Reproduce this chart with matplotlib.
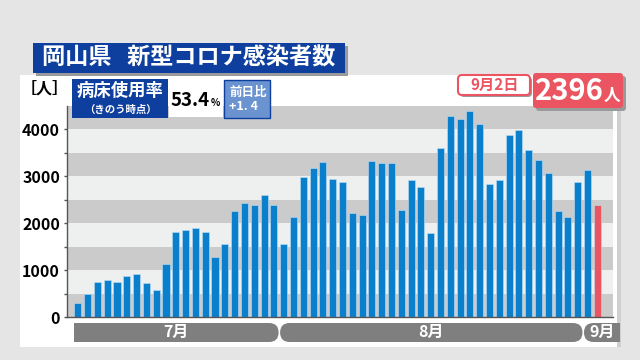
import matplotlib
matplotlib.use("Agg")
import matplotlib.pyplot as plt
from matplotlib.patches import FancyBboxPatch
from matplotlib.transforms import IdentityTransform

plt.rcParams['font.family'] = ['Noto Sans CJK JP', 'DejaVu Sans']

# daily new cases, 7/11 .. 9/2
cases = [299, 498, 754, 783, 754, 868, 918, 733, 584, 1139,
         1822, 1865, 1893, 1822, 1281, 1559, 2270, 2434, 2399, 2612, 2391,
         1566, 2142, 2996, 3181, 3302, 2947, 2875, 2221, 2171, 3317,
         3288, 3295, 2285, 2932, 2783, 1801, 3601, 4285, 4228, 4399,
         4121, 2833, 2925, 3879, 3979, 3552, 3345, 3068, 2256, 2142,
         2875, 3125, 2396]
months = ['7月', '8月', '9月']
month_days = [21, 31, 2]
yticks = [0, 1000, 2000, 3000, 4000]

title = '岡山県   新型コロナ感染者数'
bed_label = '病床使用率'
bed_note = '（きのう時点）'
bed_rate = '53.4'
bed_diff = '+1. 4'
latest_date = '9月2日'
latest_count = '2396'

W, H = 640, 360
BLUE = '#0a80cc'
RED = '#eb5561'
NAVY = '#0e3f9e'

fig = plt.figure(figsize=(W / 100, H / 100), dpi=100)
fig.patch.set_facecolor('#e6e5e5')
PIX = IdentityTransform()


def box(x0, y0, x1, y1, face, edge='none', lw=0, r=0, z=1):
    # pixel coords, origin top-left
    style = 'round,pad=0,rounding_size=%g' % r if r else 'square,pad=0'
    p = FancyBboxPatch((x0, H - y1), x1 - x0, y1 - y0, boxstyle=style,
                       transform=PIX, facecolor=face, edgecolor=edge,
                       linewidth=lw, zorder=z)
    fig.add_artist(p)


def label(x, y, s, size, color='white', ha='center', va='center', z=5):
    fig.text(x, H - y, s, transform=PIX, fontsize=size, color=color,
             fontweight='bold', ha=ha, va=va, zorder=z)


# white panel
box(20, 75, 617, 347, 'white', z=0)
box(617, 78, 621, 347, '#cfcfcf', z=0)

# chart
ax = fig.add_axes([67 / W, (H - 317) / H, (613 - 67) / W, (317 - 106) / H])
ax.set_xlim(-1.1, 54.6)
ax.set_ylim(0, 4500)
for k in range(9):
    ax.axhspan(k * 500, (k + 1) * 500, color='#cbcbcb' if k % 2 == 0 else '#eeefef',
               lw=0, zorder=0)
x = list(range(len(cases)))
colors = [BLUE] * (len(cases) - 1) + [RED]
ax.bar(x, cases, width=0.72, color=colors, edgecolor='#bfe0f5', linewidth=0.4, zorder=2)
ax.set_yticks(yticks)
ax.set_yticklabels([str(v) for v in yticks], fontsize=11.5, fontweight='bold')
ax.set_yticks(range(500, 4500, 1000), minor=True)
ax.tick_params(axis='y', which='both', length=2, width=1, color='#555555', pad=3)
ax.set_xticks([])
for s in ('top', 'right'):
    ax.spines[s].set_visible(False)
for s in ('left', 'bottom'):
    ax.spines[s].set_color('#555555')
    ax.spines[s].set_linewidth(1)

# month bands under the axis
fig.canvas.draw()
start = 0
starts = []
for n in month_days:
    starts.append(start)
    start += n
for i, (m, s0) in enumerate(zip(months, starts)):
    xl = ax.transData.transform((s0 - 0.36, 0))[0]
    if i + 1 < len(starts):
        xr = ax.transData.transform((starts[i + 1] - 0.36, 0))[0] - 1.5
    else:
        xr = 620
    box(xl, 323, xr, 342, '#7f7f7f', r=9.5, z=3)
    if i == 0:
        box(xl, 323, xl + 12, 342, '#7f7f7f', z=3)
    if i == len(months) - 1:
        box(xr - 12, 323, xr, 342, '#7f7f7f', z=3)
    label((xl + xr) / 2, 332, m, 11.5)

label(45, 89, '［人］', 11.5, color='black')

# title
box(36, 46, 348, 76, '#9a9a9a', z=2)
box(33, 43, 345, 73, NAVY, z=3)
label(42, 58, title, 16.7, ha='left')

# bed occupancy box
box(72, 79, 168, 118, NAVY, z=3)
label(120, 91, bed_label, 12.5)
label(120, 110, bed_note, 7.5)
box(169, 81, 223, 117, 'white', z=3)
label(210, 100, bed_rate, 13.5, color='black', ha='right')
label(211, 103, '%', 7, color='black', ha='left')
box(224, 80, 270, 118, '#6a93d0', edge=NAVY, lw=1, z=3)
label(229, 92, '前日比', 9, ha='left')
label(229, 107, bed_diff, 9, ha='left')

# latest value
box(460, 77, 532, 97, '#9a9a9a', r=4, z=3)
box(458, 75, 530, 95, 'white', edge=RED, lw=1.5, r=4, z=3)
label(495, 85, latest_date, 11, color=RED)
box(536, 76, 626, 111, '#9a9a9a', r=3, z=3)
box(533, 73, 623, 108, RED, r=3, z=3)
label(604, 91, latest_count, 21, ha='right')
label(604, 96, '人', 12, ha='left')

fig.savefig('out.png', dpi=100, facecolor=fig.get_facecolor())
